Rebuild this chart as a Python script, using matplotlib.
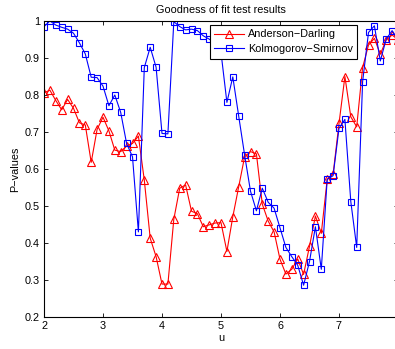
import numpy as np
import matplotlib
matplotlib.use('Agg')
import matplotlib.pyplot as plt

plt.rcParams['font.family'] = ['Liberation Sans', 'DejaVu Sans']

u = np.round(np.arange(2.0, 8.01, 0.1), 1)

# Anderson-Darling p-values (u = 2.0 .. 8.0)
ad = [0.806, 0.813, 0.785, 0.760, 0.788, 0.764, 0.725, 0.719, 0.618, 0.707,
      0.740, 0.703, 0.651, 0.647, 0.662, 0.669, 0.689, 0.570, 0.413, 0.363,
      0.289, 0.289, 0.464, 0.548, 0.557, 0.486, 0.479, 0.444, 0.449, 0.454,
      0.455, 0.377, 0.471, 0.552, 0.633, 0.647, 0.641, 0.505, 0.459, 0.430,
      0.356, 0.316, 0.329, 0.357, 0.315, 0.391, 0.473, 0.426, 0.572, 0.586,
      0.723, 0.850, 0.741, 0.714, 0.874, 0.935, 0.953, 0.910, 0.949, 0.962,
      0.950]

# Kolmogorov-Smirnov p-values
ks = [0.985, 1.000, 0.989, 0.983, 0.978, 0.967, 0.941, 0.911, 0.848, 0.847,
      0.824, 0.771, 0.800, 0.753, 0.669, 0.633, 0.430, 0.874, 0.929, 0.875,
      0.696, 0.695, 0.998, 0.985, 0.976, 0.978, 0.974, 0.960, 0.951, 0.940,
      0.915, 0.780, 0.849, 0.743, 0.638, 0.540, 0.487, 0.548, 0.510, 0.494,
      0.441, 0.388, 0.363, 0.340, 0.286, 0.350, 0.444, 0.329, 0.572, 0.582,
      0.710, 0.734, 0.512, 0.388, 0.836, 0.969, 0.987, 0.892, 0.951, 0.974,
      0.950]

fig = plt.figure(figsize=(3.95, 3.49), dpi=100)
ax = fig.add_axes([44 / 395, 32 / 349, 354 / 395, 296 / 349])

ax.plot(u, ad, color='#ff0000', lw=0.8, marker='^', ms=5.5, mfc='none',
        mew=0.8, label='Anderson\u2212Darling')
ax.plot(u, ks, color='#0000ff', lw=0.8, marker='s', ms=4.5, mfc='none',
        mew=0.8, label='Kolmogorov\u2212Smirnov')

ax.set_xlim(2, 8)
ax.set_ylim(0.2, 1.0)
ax.set_xticks(range(2, 9))
ax.set_yticks(np.round(np.arange(0.2, 1.01, 0.1), 1))
ax.set_yticklabels(['0.2', '0.3', '0.4', '0.5', '0.6', '0.7', '0.8', '0.9', '1'])
ax.tick_params(direction='in', length=3, width=0.6, labelsize=7.8,
               top=True, right=True, pad=3)
for s in ax.spines.values():
    s.set_linewidth(0.8)

ax.set_title('Goodness of fit test results', fontsize=7.8, pad=6)
ax.set_xlabel('u', fontsize=7.8, labelpad=1)
ax.set_ylabel('P\u2212values', fontsize=7.8, labelpad=3)

leg = ax.legend(loc='upper left', bbox_to_anchor=(210 / 395, 1 - 25 / 349),
                bbox_transform=fig.transFigure, fontsize=7.8, fancybox=False,
                edgecolor='black', framealpha=1, borderpad=0.4,
                labelspacing=0.45, handlelength=2.7, handletextpad=0.4,
                borderaxespad=0)
leg.get_frame().set_linewidth(0.8)

fig.savefig('out.png', dpi=100)
